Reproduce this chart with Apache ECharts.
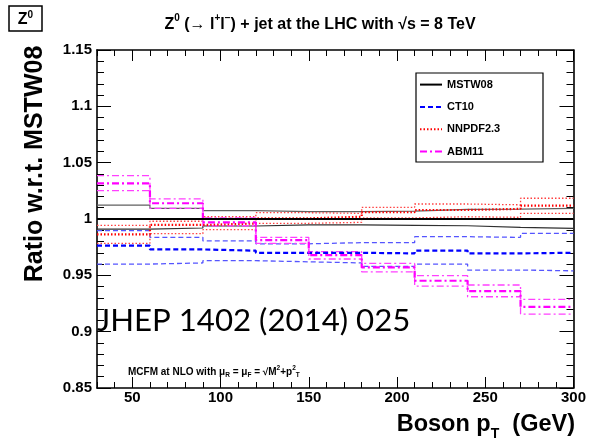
<!DOCTYPE html>
<html>
<head>
<meta charset="utf-8">
<script src="https://cdn.jsdelivr.net/npm/echarts@6/dist/echarts.min.js"></script>
<style>
html,body{margin:0;padding:0;background:#fff;}
#chart{width:589px;height:445px;}
</style>
</head>
<body>
<div id="chart"></div>
<script>
// Bin edges (GeV) for boson pT
var binEdges = [30, 60, 90, 120, 150, 180, 210, 240, 270, 300];
var xMajorTicks = [50, 100, 150, 200, 250, 300];

// MSTW08 (reference)
var mstwCentral = [1, 1, 1, 1, 1, 1, 1, 1, 1];
var mstwUp      = [1.0124, 1.0095, 1.0074, 1.0065, 1.0066, 1.0070, 1.0086, 1.0088, 1.0095];
var mstwDown    = [0.9910, 0.9920, 0.9938, 0.9947, 0.9947, 0.9944, 0.9940, 0.9926, 0.9917];

// CT10
var ct10Central = [0.9763, 0.9730, 0.9719, 0.9700, 0.9700, 0.9695, 0.9720, 0.9695, 0.9700];
var ct10Up      = [0.9896, 0.9837, 0.9805, 0.9780, 0.9790, 0.9790, 0.9843, 0.9837, 0.9873];
var ct10Down    = [0.9600, 0.9610, 0.9630, 0.9620, 0.9610, 0.9580, 0.9600, 0.9547, 0.9540];

// NNPDF2.3
var nnpdfCentral = [0.9864, 0.9947, 0.9960, 1.0006, 1.0020, 1.0060, 1.0080, 1.0090, 1.0118];
var nnpdfUp      = [0.9944, 0.9980, 1.0020, 1.0056, 1.0050, 1.0104, 1.0133, 1.0126, 1.0184];
var nnpdfDown    = [0.9784, 0.9870, 0.9905, 0.9962, 0.9970, 1.0010, 1.0020, 1.0015, 1.0050];

// ABM11
var abmCentral = [1.0317, 1.0140, 0.9970, 0.9813, 0.9680, 0.9570, 0.9452, 0.9360, 0.9220];
var abmUp      = [1.0385, 1.0178, 1.0010, 0.9837, 0.9710, 0.9606, 0.9497, 0.9414, 0.9287];
var abmDown    = [1.0251, 1.0095, 0.9940, 0.9784, 0.9645, 0.9530, 0.9405, 0.9310, 0.9156];

function stepData(vals) {
  return binEdges.map(function (x, i) { return [x, vals[Math.min(i, vals.length - 1)]]; });
}
function mk(name, vals, color, width, type) {
  return {
    name: name, type: 'line', step: 'end', data: stepData(vals),
    xAxisIndex: 0, yAxisIndex: 0,
    symbol: 'none', showSymbol: false, silent: true, animation: false,
    lineStyle: { color: color, width: width, type: type },
    itemStyle: { color: color }
  };
}
var dashCT = [5, 3];
var dotNN = [1.5, 2];
var dashAB = [7, 3, 2, 3];

var series = [
  mk('MSTW08 up', mstwUp, '#606060', 1.2, 'solid'),
  mk('MSTW08 down', mstwDown, '#303030', 1.2, 'solid'),
  mk('CT10 up', ct10Up, '#5555ff', 1.3, dashCT),
  mk('CT10 down', ct10Down, '#5555ff', 1.3, dashCT),
  mk('NNPDF2.3 up', nnpdfUp, '#ff4040', 1.3, dotNN),
  mk('NNPDF2.3 down', nnpdfDown, '#ff4040', 1.3, dotNN),
  mk('ABM11 up', abmUp, '#ff40ff', 1.3, dashAB),
  mk('ABM11 down', abmDown, '#ff40ff', 1.3, dashAB),
  mk('CT10', ct10Central, '#0000ff', 2.2, dashCT),
  mk('NNPDF2.3', nnpdfCentral, '#ff0000', 2.2, dotNN),
  mk('ABM11', abmCentral, '#ff00ff', 2.2, dashAB),
  mk('MSTW08', mstwCentral, '#000000', 2, 'solid')
];

var FONT = 'Liberation Sans, Arial, Helvetica, sans-serif';
var lineStyleAxis = { color: '#000', width: 1.6 };
var tickStyle = { color: '#000', width: 1 };

function xAx(pos, major) {
  var a = {
    type: 'value', position: pos, min: 30, max: 300,
    splitLine: { show: false },
    axisLine: { show: !major, onZero: false, lineStyle: lineStyleAxis }
  };
  if (major) {
    a.axisTick = { show: true, inside: true, length: 11, lineStyle: tickStyle, customValues: xMajorTicks };
    a.axisLabel = pos === 'bottom'
      ? { show: true, customValues: xMajorTicks, color: '#000', fontFamily: FONT, fontWeight: 'bold', fontSize: 15, margin: 2 }
      : { show: false };
  } else {
    a.interval = 10;
    a.axisTick = { show: true, inside: true, length: 6, lineStyle: tickStyle };
    a.axisLabel = { show: false };
  }
  return a;
}
function yAx(pos) {
  return {
    type: 'value', position: pos, min: 0.85, max: 1.15, interval: 0.05,
    splitLine: { show: false },
    axisLine: { show: true, onZero: false, lineStyle: lineStyleAxis },
    axisTick: { show: true, inside: true, length: 14, lineStyle: tickStyle },
    minorTick: { show: true, splitNumber: 5, length: 7, lineStyle: tickStyle },
    minorSplitLine: { show: false },
    axisLabel: pos === 'left'
      ? { show: true, color: '#000', fontFamily: FONT, fontWeight: 'bold', fontSize: 15, margin: 5 }
      : { show: false }
  };
}

var chart = echarts.init(document.getElementById('chart'), null, { renderer: 'canvas' });
chart.setOption({
  animation: false,
  backgroundColor: '#fff',
  grid: { left: 97, right: 14, top: 50, bottom: 57, containLabel: false },
  xAxis: [xAx('bottom', false), xAx('bottom', true), xAx('top', false), xAx('top', true)],
  yAxis: [yAx('left'), yAx('right')],
  legend: {
    data: ['MSTW08', 'CT10', 'NNPDF2.3', 'ABM11'],
    orient: 'vertical', left: 419, top: 79, padding: 0,
    itemWidth: 22, itemHeight: 14, itemGap: 11.1,
    selectedMode: false,
    itemStyle: { opacity: 0 },
    textStyle: { color: '#000', fontFamily: FONT, fontWeight: 'bold', fontSize: 11 }
  },
  series: series,
  graphic: [
    { type: 'rect', shape: { x: 416, y: 73, width: 127, height: 89 }, style: { fill: 'rgba(0,0,0,0)', stroke: '#000', lineWidth: 1.2 }, z: 5 },
    { type: 'rect', shape: { x: 9, y: 6, width: 33, height: 25 }, style: { fill: '#fff', stroke: '#000', lineWidth: 1.5 } },
    { type: 'text', x: 25.5, y: 19, style: { text: '{b|Z}{s|0}', align: 'center', verticalAlign: 'middle',
        rich: { b: { fontFamily: FONT, fontWeight: 'bold', fontSize: 16, lineHeight: 18, verticalAlign: 'bottom' },
                s: { fontFamily: FONT, fontWeight: 'bold', fontSize: 10, verticalAlign: 'top' } } } },
    { type: 'text', x: 320, y: 23, style: {
        text: '{b|Z}{s|0}{b| (→ l}{s|+}{b|l}{s|−}{b|) + jet at the LHC with √s = 8 TeV}',
        align: 'center', verticalAlign: 'middle',
        rich: { b: { fontFamily: FONT, fontWeight: 'bold', fontSize: 16, lineHeight: 19, verticalAlign: 'bottom' },
                s: { fontFamily: FONT, fontWeight: 'bold', fontSize: 10, verticalAlign: 'top' } } } },
    { type: 'text', x: 35, y: 164, rotation: Math.PI / 2, style: {
        text: 'Ratio w.r.t. MSTW08', align: 'center', verticalAlign: 'middle',
        fontFamily: FONT, fontWeight: 'bold', fontSize: 25, fill: '#000' } },
    { type: 'text', x: 575, y: 427, style: {
        text: '{b|Boson p}{sub|T}{b|  (GeV)}', align: 'right', verticalAlign: 'middle',
        rich: { b: { fontFamily: FONT, fontWeight: 'bold', fontSize: 23.5, lineHeight: 28, verticalAlign: 'top' },
                sub: { fontFamily: FONT, fontWeight: 'bold', fontSize: 14, verticalAlign: 'bottom' } } } },
    { type: 'text', x: 97, y: 321, z: 10, style: {
        text: 'JHEP 1402 (2014) 025', align: 'left', verticalAlign: 'middle',
        fontFamily: 'Lato, "Open Sans", sans-serif', fontSize: 31.2, fill: '#000' } },
    { type: 'text', x: 128, y: 372, style: {
        text: '{m|MCFM at NLO with μ}{sub|R}{m| = μ}{sub|F}{m| = √M}{sup|2}{m|+p}{sup|2}{sub|T}',
        align: 'left', verticalAlign: 'middle',
        rich: { m: { fontFamily: FONT, fontWeight: 'bold', fontSize: 10, lineHeight: 14, verticalAlign: 'middle' },
                sub: { fontFamily: FONT, fontWeight: 'bold', fontSize: 6.5, verticalAlign: 'bottom' },
                sup: { fontFamily: FONT, fontWeight: 'bold', fontSize: 6.5, verticalAlign: 'top' } } } }
  ]
});
</script>
</body>
</html>
